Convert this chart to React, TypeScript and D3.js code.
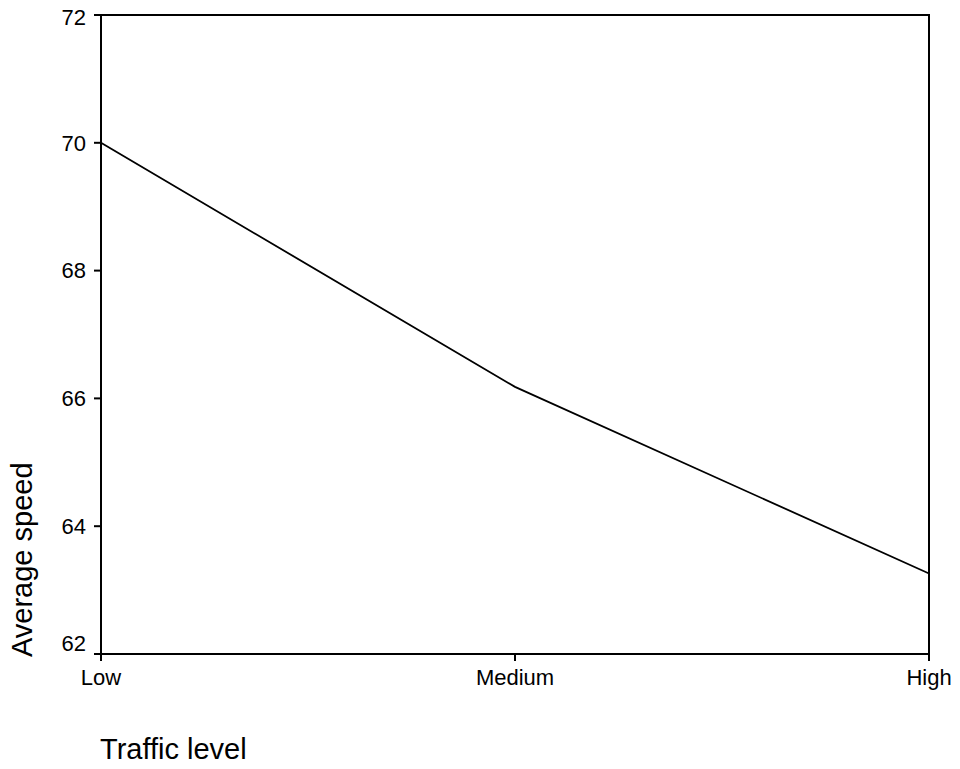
import * as d3 from 'd3';
import React from 'react';

const categories = ['Low', 'Medium', 'High'];
const avgSpeed = [70.0, 66.18, 63.26];
const yTicks = [62, 64, 66, 68, 70, 72];

const W = 960;
const H = 769;
const margin = { top: 15, right: 31, bottom: 115, left: 101 };

const App = () => {
  const innerW = W - margin.left - margin.right;
  const innerH = H - margin.top - margin.bottom;

  const xScale = d3.scalePoint().domain(categories).range([0, innerW]);
  const yScale = d3.scaleLinear().domain([62, 72]).range([innerH, 0]);

  const data = categories.map((c, i) => ({ cat: c, value: avgSpeed[i] }));
  const line = d3
    .line<{ cat: string; value: number }>()
    .x((d) => xScale(d.cat) ?? 0)
    .y((d) => yScale(d.value));

  const font = '"Liberation Sans", Arial, sans-serif';
  const [yMin, yMax] = yScale.domain();

  return (
    <div style={{ position: 'absolute', left: 0, top: 0 }}>
      <svg width={W} height={H} style={{ display: 'block', background: '#fff' }}>
        <g transform={`translate(${margin.left},${margin.top})`} fontFamily={font}>
          {/* frame */}
          <rect x={0} y={0} width={innerW} height={innerH} fill="none" stroke="#000" strokeWidth={2} />

          {/* y ticks, end labels nudged inward like the original */}
          {yTicks.map((t) => (
            <g key={t} transform={`translate(0,${yScale(t)})`}>
              <line x1={-7} x2={0} stroke="#000" strokeWidth={2} />
              <text
                x={-15}
                y={t === yMin ? -11 : t === yMax ? 2 : 0}
                dy="0.35em"
                textAnchor="end"
                fontSize={22}
                fill="#000"
              >
                {t}
              </text>
            </g>
          ))}

          {/* x ticks */}
          {categories.map((c) => (
            <g key={c} transform={`translate(${xScale(c)},${innerH})`}>
              <line y1={0} y2={7} stroke="#000" strokeWidth={2} />
              <text y={31} textAnchor="middle" fontSize={22} fill="#000">
                {c}
              </text>
            </g>
          ))}

          <path d={line(data) ?? ''} fill="none" stroke="#000" strokeWidth={1.8} />
        </g>

        <text x={100} y={759} fontFamily={font} fontSize={29} fill="#000">
          Traffic level
        </text>
        <text
          transform="translate(32,657) rotate(-90)"
          fontFamily={font}
          fontSize={29}
          fill="#000"
        >
          Average speed
        </text>
      </svg>
    </div>
  );
};

export default App;
